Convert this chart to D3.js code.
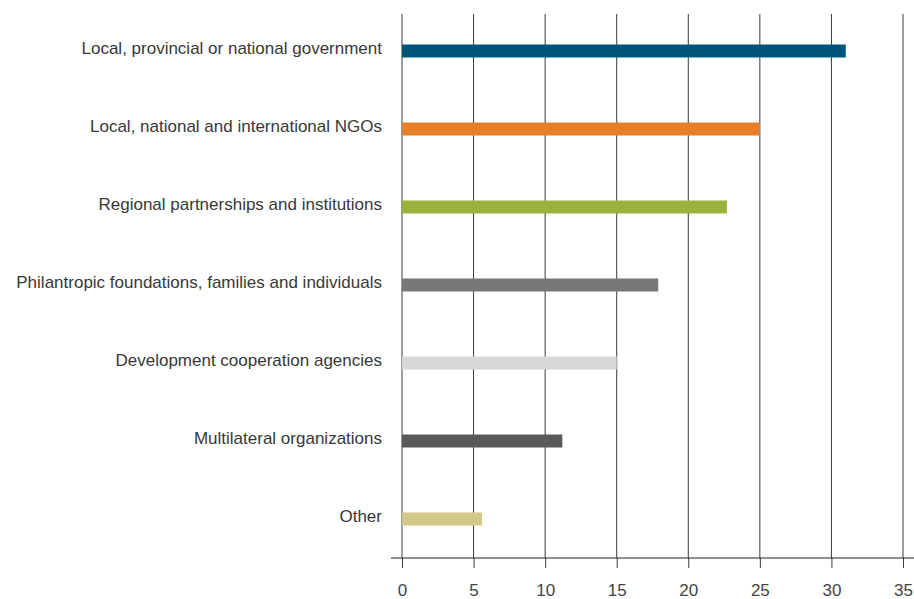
<!DOCTYPE html>
<html>
<head>
<meta charset="utf-8">
<script src="https://cdn.jsdelivr.net/npm/d3@7"></script>
<style>
  body { margin: 0; background: #fff; }
  text { font-family: "Liberation Sans", Arial, sans-serif; }
</style>
</head>
<body>
<svg id="chart" width="914" height="599"></svg>
<script>
const categories = [
  "Local, provincial or national government",
  "Local, national and international NGOs",
  "Regional partnerships and institutions",
  "Philantropic foundations, families and individuals",
  "Development cooperation agencies",
  "Multilateral organizations",
  "Other"
];
const values = [31, 25, 22.7, 17.9, 15, 11.2, 5.6];
const barColors = ["#00567a", "#e67e2a", "#99b33b", "#777877", "#d6d7d6", "#585958", "#d4c888"];
const xTicks = [0, 5, 10, 15, 20, 25, 30, 35];

const svg = d3.select("#chart");
const plotLeft = 402, plotRight = 903, plotTop = 12, axisY = 558;

const x = d3.scaleLinear().domain([0, 35]).range([plotLeft, plotRight]);
const y = d3.scaleBand().domain(categories).range([plotTop, axisY]);

// vertical grid lines
svg.append("g")
  .selectAll("line")
  .data(xTicks)
  .join("line")
  .attr("x1", d => x(d)).attr("x2", d => x(d))
  .attr("y1", 14).attr("y2", axisY)
  .attr("stroke", "#3a3a3a")
  .attr("stroke-width", 1);

// bottom axis
const xAxis = d3.axisBottom(x).tickValues(xTicks).tickSize(10).tickPadding(16);
const ax = svg.append("g")
  .attr("transform", `translate(0,${axisY})`)
  .call(xAxis);
ax.select(".domain").remove();
ax.selectAll("line").attr("stroke", "#3a3a3a");
ax.selectAll("text")
  .attr("fill", "#444")
  .style("font-size", "17px");
svg.append("line")
  .attr("x1", 391).attr("x2", 914)
  .attr("y1", axisY).attr("y2", axisY)
  .attr("stroke", "#222");

// bars
const barH = 13;
svg.append("g")
  .selectAll("rect")
  .data(values)
  .join("rect")
  .attr("x", x(0))
  .attr("y", (d, i) => y(categories[i]) + y.bandwidth() / 2 - barH / 2)
  .attr("width", d => x(d) - x(0))
  .attr("height", barH)
  .attr("fill", (d, i) => barColors[i]);

// category labels
svg.append("g")
  .selectAll("text")
  .data(categories)
  .join("text")
  .attr("x", 382)
  .attr("y", d => y(d) + y.bandwidth() / 2 - 1.5)
  .attr("text-anchor", "end")
  .attr("dominant-baseline", "middle")
  .attr("fill", "#383838")
  .style("font-size", "17px")
  .text(d => d);
</script>
</body>
</html>
